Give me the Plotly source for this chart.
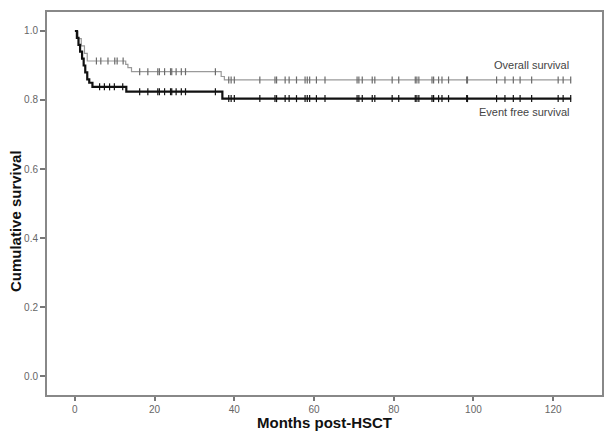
import numpy as np
import plotly.graph_objects as go

# Kaplan-Meier step data (months, survival)
os_time = [0, 0.8, 1.6, 2.4, 3.1, 12.75, 13.3, 14.2, 36.7, 37.5, 124.5]
os_surv = [1.0, 0.978, 0.957, 0.935, 0.913, 0.903, 0.894, 0.882, 0.868, 0.858, 0.858]

efs_time = [0, 0.5, 0.9, 1.3, 1.8, 2.2, 2.6, 3.1, 3.6, 4.4, 12.9, 37.0, 124.5]
efs_surv = [1.0, 0.98, 0.96, 0.94, 0.92, 0.90, 0.88, 0.86, 0.85, 0.838, 0.824, 0.804, 0.804]

# censored observations (tick marks)
os_cens_early = [5.4, 6.5, 8.3, 10.0, 10.6, 12.1]
efs_cens_early = [6.2, 7.4, 8.7, 9.9, 12.0]
cens_late = [16.25, 18.3, 20.8, 21.2, 22.5, 24.0, 24.3, 25.4, 26.7, 27.75, 35.25,
             38.6, 39.2, 40.0, 46.4, 50.2, 50.6, 52.75, 53.75, 55.6, 57.75, 58.3,
             58.9, 60.6, 62.75, 70.8, 71.25, 72.1, 74.6, 75.25, 79.6, 81.25, 85.4,
             85.8, 86.3, 89.6, 90.0, 91.25, 92.1, 93.75, 98.3, 98.5, 105.8, 107.9,
             110.0, 111.7, 114.6, 121.25, 122.5, 124.4]

x_ticks = [0, 20, 40, 60, 80, 100, 120]
y_ticks = [0.0, 0.2, 0.4, 0.6, 0.8, 1.0]


def surv_at(times, surv, t):
    idx = np.searchsorted(np.array(times), np.array(t), side="right") - 1
    return list(np.array(surv)[idx])


font = "Liberation Sans, Arial, Helvetica, sans-serif"
fig = go.Figure()

# Overall survival (thin grey)
fig.add_trace(go.Scatter(x=os_time, y=os_surv, mode="lines", line_shape="hv",
                         line=dict(color="#9a9a9a", width=1.2), showlegend=False))
os_c = os_cens_early + cens_late
fig.add_trace(go.Scatter(x=os_c, y=surv_at(os_time, os_surv, os_c), mode="markers",
                         marker=dict(symbol="line-ns", size=5,
                                     line=dict(color="#6a6a6a", width=1.2)),
                         showlegend=False))

# Event free survival (thick black)
fig.add_trace(go.Scatter(x=efs_time, y=efs_surv, mode="lines", line_shape="hv",
                         line=dict(color="#111111", width=2.2), showlegend=False))
efs_c = efs_cens_early + cens_late
fig.add_trace(go.Scatter(x=efs_c, y=surv_at(efs_time, efs_surv, efs_c), mode="markers",
                         marker=dict(symbol="line-ns", size=5,
                                     line=dict(color="#111111", width=1.2)),
                         showlegend=False))

fig.add_annotation(x=124.5, y=0.902, text="Overall survival", showarrow=False,
                   xanchor="right", yanchor="middle",
                   font=dict(family=font, size=11, color="#444444"))
fig.add_annotation(x=124.5, y=0.766, text="Event free survival", showarrow=False,
                   xanchor="right", yanchor="middle",
                   font=dict(family=font, size=11, color="#444444"))

# axis titles
fig.add_annotation(x=0.5, y=-0.072, xref="paper", yref="paper", text="<b>Months post-HSCT</b>",
                   showarrow=False, xanchor="center", yanchor="middle",
                   font=dict(family=font, size=15, color="#111111"))
fig.add_annotation(x=-0.057, y=0.455, xref="paper", yref="paper", text="<b>Cumulative survival</b>",
                   showarrow=False, textangle=-90, xanchor="center", yanchor="middle",
                   font=dict(family=font, size=15, color="#111111"))

fig.update_layout(
    width=614, height=437,
    margin=dict(l=47, r=10, t=10, b=42),
    plot_bgcolor="white", paper_bgcolor="white",
    font=dict(family=font, size=10, color="#666666"),
)
fig.update_xaxes(range=[-7, 132.25], tickvals=x_ticks, ticks="outside", ticklen=4,
                 tickcolor="#777777", tickwidth=1.5, showline=True, linecolor="#888888",
                 linewidth=2, mirror=True, showgrid=False, zeroline=False)
fig.update_yaxes(range=[-0.055, 1.055], tickvals=y_ticks, tickformat=".1f", ticks="outside",
                 ticklen=5, tickcolor="#777777", tickwidth=1.5, showline=True,
                 linecolor="#888888", linewidth=2, mirror=True, showgrid=False,
                 zeroline=False)

fig.write_html("out.html", config={"displayModeBar": False},
               post_script="document.body.style.margin='0px';")
